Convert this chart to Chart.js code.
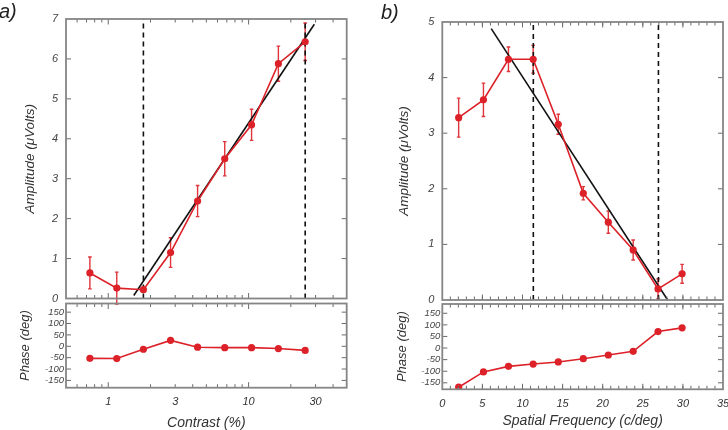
<!DOCTYPE html>
<html><head><meta charset="utf-8">
<script src="https://cdn.jsdelivr.net/npm/chart.js@4.4.1/dist/chart.umd.min.js"></script>
<style>
html,body{margin:0;padding:0;background:#fff;}
#wrap{position:relative;width:728px;height:430px;overflow:hidden;background:#fff;}
canvas{position:absolute;left:0;top:0;}
.lab{position:absolute;font-family:"Liberation Sans",Arial,sans-serif;font-style:italic;font-size:20px;color:#222;line-height:20px;}
</style></head><body>
<div id="wrap">
<canvas id="aTop" width="728" height="430"></canvas>
<canvas id="aBot" width="728" height="430"></canvas>
<canvas id="bTop" width="728" height="430"></canvas>
<canvas id="bBot" width="728" height="430"></canvas>
<div class="lab" style="left:-1px;top:1px">a)</div>
<div class="lab" style="left:381px;top:2px">b)</div>
</div>
<script>
// ---------- data ----------
const contrast = [0.74, 1.15, 1.78, 2.78, 4.33, 6.76, 10.5, 16.3, 25.3];
const ampA     = [0.64, 0.26, 0.22, 1.15, 2.44, 3.50, 4.35, 5.88, 6.43];
const errA     = [0.40, 0.40, 0.05, 0.37, 0.39, 0.43, 0.39, 0.44, 0.47];
const phaseA   = [-53, -54, -13, 26, -4, -6, -6, -10, -18];
const fitAx    = [1.52, 29.4];
const fitAy    = [0.075, 6.87];
const dashA    = [1.78, 25.3];
const contrastTicks = [1, 3, 10, 30];

const spatial  = [2.04, 5.13, 8.25, 11.33, 14.46, 17.58, 20.7, 23.8, 26.9, 29.9];
const ampB     = [3.28, 3.60, 4.33, 4.33, 3.16, 1.92, 1.40, 0.90, 0.20, 0.47];
const errB     = [0.35, 0.30, 0.22, 0.25, 0.18, 0.12, 0.20, 0.18, 0.18, 0.17];
const phaseB   = [-169, -103, -79, -69, -60, -46, -30, -14, 71, 87];
const fitBx    = [6.1, 28.1];
const fitBy    = [4.88, 0];
const dashB    = [11.35, 26.95];
const phaseTicks = [-150, -100, -50, 0, 50, 100, 150];

// ---------- styling ----------
const RED = '#dc2129';
Chart.defaults.font.family = '"Liberation Sans", Arial, sans-serif';
Chart.defaults.font.style = 'italic';
Chart.defaults.font.size = 11;
Chart.defaults.color = '#444';

function range(a, b, s) { const r = []; for (let v = a; v <= b + 1e-9; v += s) r.push(+v.toFixed(6)); return r; }
const logMinor = [];
[0.1, 1, 10].forEach(d => { for (let k = 2; k <= 9; k++) logMinor.push(k * d); });

function framePlugin(spec) {
  return {
    id: 'frame',
    afterDraw(chart) {
      const { ctx, chartArea: a, scales } = chart;
      const x = scales.x, y = scales.y;
      ctx.save();
      ctx.strokeStyle = '#6a6a6a';
      ctx.lineWidth = 1;
      const xt = (vals, len) => vals.forEach(v => {
        const p = x.getPixelForValue(v);
        if (p < a.left + 1 || p > a.right - 1) return;
        ctx.beginPath();
        ctx.moveTo(p, a.top); ctx.lineTo(p, a.top + len);
        ctx.moveTo(p, a.bottom); ctx.lineTo(p, a.bottom - len);
        ctx.stroke();
      });
      const yt = (vals, len) => vals.forEach(v => {
        const p = y.getPixelForValue(v);
        if (p < a.top + 1 || p > a.bottom - 1) return;
        ctx.beginPath();
        ctx.moveTo(a.left, p); ctx.lineTo(a.left + len, p);
        ctx.moveTo(a.right, p); ctx.lineTo(a.right - len, p);
        ctx.stroke();
      });
      xt(spec.xMinor, 3.5); xt(spec.xMajor, 5.5);
      yt(spec.yMajor, 5);
      ctx.strokeStyle = '#858585';
      ctx.lineWidth = 1.8;
      ctx.strokeRect(a.left, a.top, a.right - a.left, a.bottom - a.top);
      ctx.restore();
    }
  };
}

function errPlugin(xs, ys, es) {
  return {
    id: 'errbars',
    beforeDatasetsDraw(chart) {
      const { ctx, scales: { x, y } } = chart;
      ctx.save();
      ctx.strokeStyle = '#e0353b';
      ctx.lineWidth = 1.4;
      xs.forEach((xv, i) => {
        const px = x.getPixelForValue(xv);
        const t = y.getPixelForValue(ys[i] + es[i]);
        const b = y.getPixelForValue(ys[i] - es[i]);
        ctx.beginPath();
        ctx.moveTo(px, t); ctx.lineTo(px, b);
        ctx.moveTo(px - 1.8, t); ctx.lineTo(px + 1.8, t);
        ctx.moveTo(px - 1.8, b); ctx.lineTo(px + 1.8, b);
        ctx.stroke();
      });
      ctx.restore();
    }
  };
}

function redSet(xs, ys, r) {
  return {
    data: xs.map((v, i) => ({ x: v, y: ys[i] })),
    showLine: true, borderColor: RED, backgroundColor: RED,
    borderWidth: 1.6, pointRadius: r, pointBackgroundColor: RED, pointBorderColor: RED,
    pointBorderWidth: 0, order: 0
  };
}
function blackSet(xs, ys) {
  return {
    data: xs.map((v, i) => ({ x: v, y: ys[i] })),
    showLine: true, borderColor: '#111', borderWidth: 1.6, pointRadius: 0, order: 2
  };
}
function dashSets(xs, ymin, ymax) {
  return xs.map(v => ({
    data: [{ x: v, y: ymin }, { x: v, y: ymax }],
    showLine: true, borderColor: '#111', borderWidth: 1.6, borderDash: [5, 4],
    pointRadius: 0, order: 3
  }));
}

function make(id, area, yW, xH, datasets, scales, plugins) {
  scales.x.afterFit = s => { s.height = xH; s.paddingLeft = 0; s.paddingRight = 0; };
  scales.y.afterFit = s => { s.width = yW; s.paddingTop = 0; s.paddingBottom = 0; };
  return new Chart(document.getElementById(id), {
    type: 'scatter',
    data: { datasets },
    options: {
      responsive: false, animation: false, devicePixelRatio: 1,
      layout: { padding: { left: area.l - yW, top: area.t, right: 728 - area.r, bottom: 430 - area.b - xH } },
      plugins: { legend: { display: false }, tooltip: { enabled: false } },
      scales
    },
    plugins
  });
}

const noGrid = { display: false, drawTicks: false };
const noBorder = { display: false };

// ---------- a) top ----------
make('aTop', { l: 66, t: 19, r: 346.7, b: 298.5 }, 44, 0,
  [redSet(contrast, ampA, 3.6), blackSet(fitAx, fitAy), ...dashSets(dashA, 0, 7)],
  {
    x: { type: 'logarithmic', min: 0.5, max: 50, ticks: { display: false }, grid: noGrid, border: noBorder },
    y: { min: 0, max: 7, ticks: { stepSize: 1, autoSkip: false, padding: 8, font: { size: 11 }, color: '#444' },
         grid: noGrid, border: noBorder,
         title: { display: true, text: 'Amplitude (\u03bcVolts)', font: { size: 13.5 }, color: '#333', padding: 0 } }
  },
  [errPlugin(contrast, ampA, errA), framePlugin({ xMajor: [1, 10], xMinor: logMinor, yMajor: range(0, 7, 1) })]
);

// ---------- a) bottom ----------
make('aBot', { l: 66, t: 303.5, r: 346.7, b: 387.7 }, 48.8, 43.4,
  [redSet(contrast, phaseA, 3.6)],
  {
    x: { type: 'logarithmic', min: 0.5, max: 50,
         afterBuildTicks: s => { s.ticks = contrastTicks.map(v => ({ value: v })); },
         ticks: { autoSkip: false, maxRotation: 0, padding: 8, font: { size: 11 }, color: '#333', callback: v => String(v) },
         grid: noGrid, border: noBorder,
         title: { display: true, text: 'Contrast (%)', font: { size: 14 }, color: '#333', padding: 0 } },
    y: { min: -182, max: 188,
         afterBuildTicks: s => { s.ticks = phaseTicks.map(v => ({ value: v })); },
         ticks: { autoSkip: false, padding: 2, font: { size: 9.5 }, color: '#444' },
         grid: noGrid, border: noBorder,
         title: { display: true, text: 'Phase (deg)', font: { size: 13 }, color: '#333', padding: 0 } }
  },
  [framePlugin({ xMajor: [1, 10], xMinor: logMinor, yMajor: phaseTicks })]
);

// ---------- b) top ----------
make('bTop', { l: 442.3, t: 22, r: 723, b: 300 }, 46.1, 0,
  [redSet(spatial, ampB, 3.6), blackSet(fitBx, fitBy), ...dashSets(dashB, 0, 5)],
  {
    x: { type: 'linear', min: 0, max: 35, ticks: { display: false }, grid: noGrid, border: noBorder },
    y: { min: 0, max: 5, ticks: { stepSize: 1, autoSkip: false, padding: 8, font: { size: 11 }, color: '#444' },
         grid: noGrid, border: noBorder,
         title: { display: true, text: 'Amplitude (\u03bcVolts)', font: { size: 13.5 }, color: '#333', padding: 0 } }
  },
  [errPlugin(spatial, ampB, errB), framePlugin({ xMajor: range(0, 35, 5), xMinor: range(0, 35, 1), yMajor: range(0, 5, 1) })]
);

// ---------- b) bottom ----------
make('bBot', { l: 442.3, t: 304, r: 723, b: 389.3 }, 47.6, 40.1,
  [redSet(spatial, phaseB, 3.6)],
  {
    x: { type: 'linear', min: 0, max: 35,
         ticks: { stepSize: 5, autoSkip: false, maxRotation: 0, padding: 8, font: { size: 11 }, color: '#333' },
         grid: noGrid, border: noBorder,
         title: { display: true, text: 'Spatial Frequency (c/deg)', font: { size: 14 }, color: '#333', padding: 0 } },
    y: { min: -178, max: 190,
         afterBuildTicks: s => { s.ticks = phaseTicks.map(v => ({ value: v })); },
         ticks: { autoSkip: false, padding: 2, font: { size: 9.5 }, color: '#444' },
         grid: noGrid, border: noBorder,
         title: { display: true, text: 'Phase (deg)', font: { size: 13 }, color: '#333', padding: 0 } }
  },
  [framePlugin({ xMajor: range(0, 35, 5), xMinor: range(0, 35, 1), yMajor: phaseTicks })]
);
</script>
</body></html>
